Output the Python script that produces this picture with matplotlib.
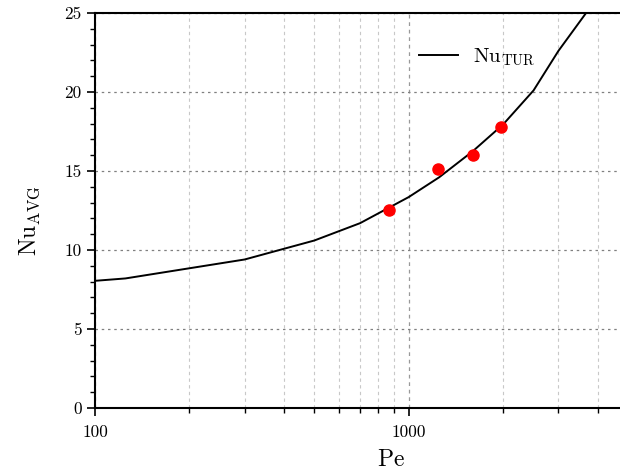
import matplotlib
matplotlib.use("Agg")
import matplotlib.pyplot as plt
from matplotlib.ticker import FixedLocator, FuncFormatter, MultipleLocator, NullFormatter

plt.rcParams['font.family'] = 'serif'
plt.rcParams['font.serif'] = ['cmr10', 'DejaVu Serif']
plt.rcParams['mathtext.fontset'] = 'cm'
plt.rcParams['axes.unicode_minus'] = False

# Data
pe_line = [100, 125, 300, 500, 700, 1000, 1250, 1600, 2000, 2500, 3000, 4000]
nu_line = [8.05, 8.2, 9.4, 10.6, 11.7, 13.35, 14.6, 16.25, 17.95, 20.1, 22.6, 26.0]
pe_pts = [865, 1240, 1605, 1975]
nu_pts = [12.5, 15.1, 16.0, 17.8]

fig = plt.figure(figsize=(6.2, 4.73), dpi=100)
ax = fig.add_axes([95/620, 65/473, (628-95)/620, (408-13)/473])

ax.plot(pe_line, nu_line, color='black', lw=1.4, label=r'$\mathrm{Nu}_{\mathrm{TUR}}$')
ax.plot(pe_pts, nu_pts, 'o', color='#ff0000', ms=8, mec='#ff0000', zorder=3)

ax.set_xscale('log')
ax.set_xlim(100, 5000)
ax.set_ylim(0, 25)

ax.xaxis.set_major_locator(FixedLocator([100, 1000]))
ax.xaxis.set_major_formatter(FuncFormatter(lambda v, p: '%d' % round(v)))
ax.xaxis.set_minor_locator(FixedLocator([200, 300, 400, 500, 600, 700, 800, 900, 2000, 3000, 4000]))
ax.xaxis.set_minor_formatter(NullFormatter())
ax.yaxis.set_major_locator(MultipleLocator(5))
ax.yaxis.set_minor_locator(MultipleLocator(1))
ax.yaxis.set_major_formatter(FuncFormatter(lambda v, p: '%d' % round(v)))

ax.tick_params(axis='both', which='major', direction='out', length=6, width=1.2, labelsize=12.5)
ax.tick_params(axis='both', which='minor', direction='out', length=3.5, width=1.0)
ax.tick_params(axis='x', which='major', pad=6)

for s in ['left', 'bottom', 'top']:
    ax.spines[s].set_linewidth(1.5)
ax.spines['right'].set_visible(False)

ax.grid(True, axis='y', which='major', color='#808080', ls=(0, (2, 3)), lw=0.9)
ax.grid(True, axis='x', which='major', color='#999999', ls=(0, (3, 3)), lw=0.9)
ax.grid(True, axis='x', which='minor', color='#c8c8c8', ls=(0, (3, 3)), lw=0.8)

ax.set_xlabel(r'$\mathrm{Pe}$', fontsize=17)
ax.set_ylabel(r'$\mathrm{Nu}_{\mathrm{AVG}}$', fontsize=17)
ax.xaxis.set_label_coords((391-95)/(628-95), -(449-408)/395)
ax.yaxis.set_label_coords(-(95-42)/(628-95), (408-221)/395)

leg = ax.legend(loc='upper left', bbox_to_anchor=((400-95)/(628-95), 1 - (28-13)/395),
                frameon=False, fontsize=15, handlelength=1.9, handletextpad=0.7)

fig.savefig('out.png', dpi=100)
